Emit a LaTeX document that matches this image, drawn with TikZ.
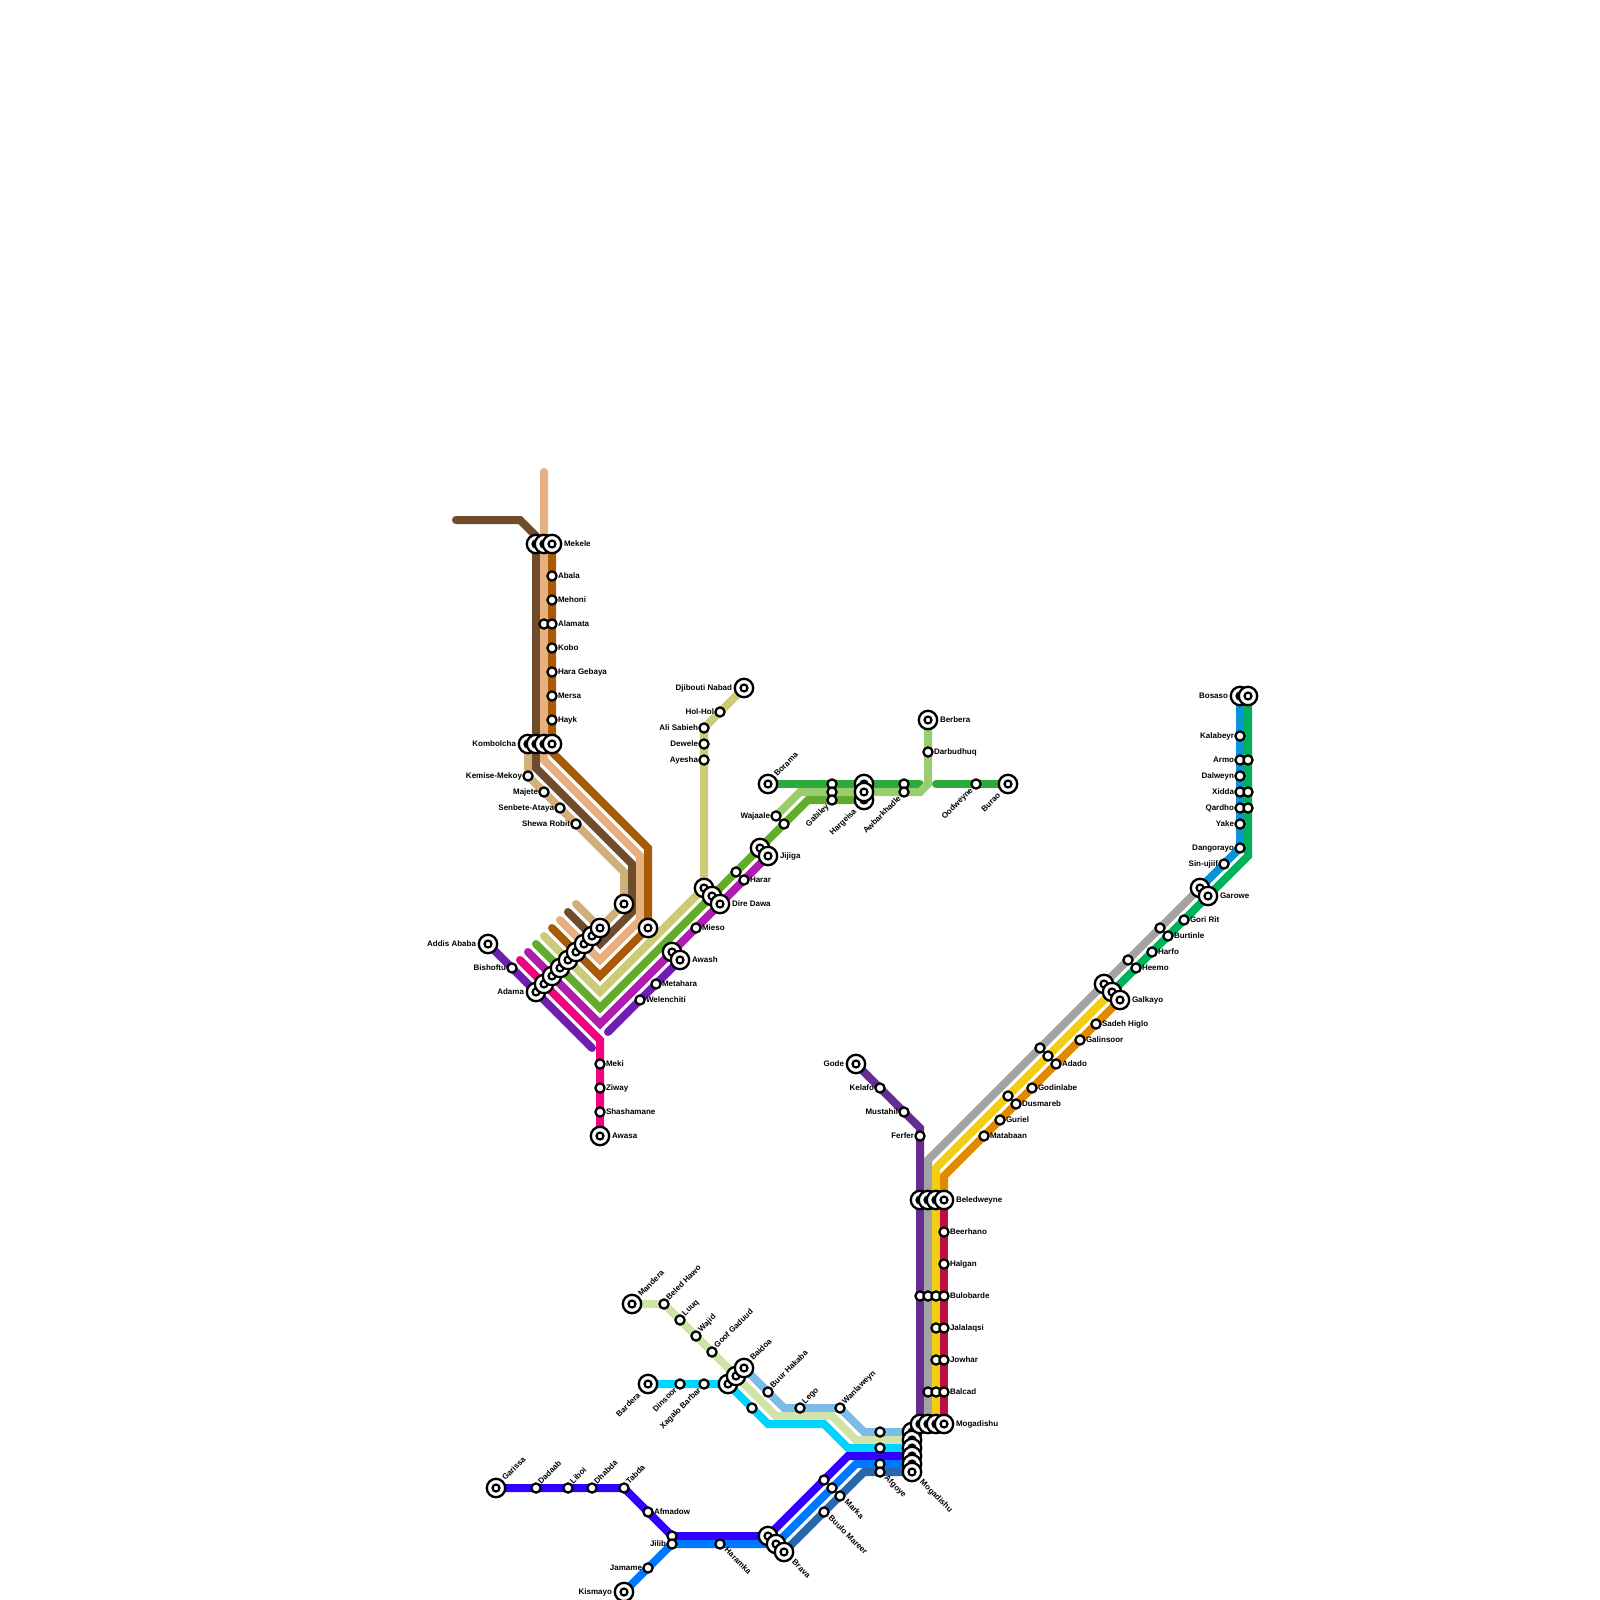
\documentclass[tikz,border=0pt]{standalone}
\usepackage{fontspec}
\setmainfont{Liberation Sans}
\pgfdeclarelayer{lines}
\pgfsetlayers{lines,main}
\definecolor{cTan}{HTML}{CFB07B}
\definecolor{cBrown}{HTML}{6E4C2C}
\definecolor{cPeach}{HTML}{E8B07E}
\definecolor{cOchre}{HTML}{A85A05}
\definecolor{cKhaki}{HTML}{CACC78}
\definecolor{cGreen}{HTML}{63AB2B}
\definecolor{cMagenta}{HTML}{AE1DAE}
\definecolor{cPink}{HTML}{F0047F}
\definecolor{cViolet}{HTML}{6E1EB0}
\definecolor{cDGreen}{HTML}{2AAB3A}
\definecolor{cLGreen}{HTML}{9ACC70}
\definecolor{cPlum}{HTML}{662D91}
\definecolor{cGray}{HTML}{A3A3A3}
\definecolor{cYellow}{HTML}{F1CE14}
\definecolor{cOrange}{HTML}{E08A00}
\definecolor{cRed}{HTML}{BE0F3C}
\definecolor{cEmerald}{HTML}{00B159}
\definecolor{cSky}{HTML}{0A94D6}
\definecolor{cPale}{HTML}{CFE4A6}
\definecolor{cLBlue}{HTML}{7CBBE8}
\definecolor{cCyan}{HTML}{00D5FF}
\definecolor{cIndigo}{HTML}{3300FF}
\definecolor{cAzure}{HTML}{0077FF}
\definecolor{cSteel}{HTML}{2A67AA}
\tikzset{
  stn/.style={circle,draw=black,fill=white,line width=2.2pt,minimum size=9.2pt,inner sep=0pt},
  term/.style={circle,draw=black,fill=white,line width=2.3pt,minimum size=18.4pt,inner sep=0pt,
    path picture={\draw[line width=2.2pt,fill=white] (path picture bounding box.center) circle[radius=3.5pt];}},
  lbl/.style={inner sep=0pt,outer sep=0pt,text=black,font=\bfseries\fontsize{8}{8}\selectfont},
  metro/.style={line width=8pt,line cap=round,line join=miter,miter limit=10}
}
\newcommand\st[3]{\node[stn] (#1) at (#2,#3) {};}
\newcommand\tm[3]{\node[term] (#1) at (#2,#3) {};}
\newcommand\lab[5]{\node[lbl,anchor=mid #2,rotate=#3] (l#1) at ([shift={(#4)}]#1.center) {#5};}
\newcommand\labR[2]{\lab{#1}{west}{0}{6,-0.5}{#2}}
\newcommand\labL[2]{\lab{#1}{east}{0}{-6,-0.5}{#2}}
\newcommand\labRR[2]{\lab{#1}{west}{0}{12,-0.5}{#2}}
\newcommand\labLL[2]{\lab{#1}{east}{0}{-12,-0.5}{#2}}
\newcommand\labU[2]{\lab{#1}{west}{45}{3.5,-5.5}{#2}}
\newcommand\labUU[2]{\lab{#1}{west}{45}{7.5,-9}{#2}}
\newcommand\labD[2]{\lab{#1}{west}{-45}{6,5}{#2}}
\newcommand\labDD[2]{\lab{#1}{west}{-45}{9.5,9}{#2}}
\newcommand\labB[2]{\lab{#1}{east}{45}{-4.5,5}{#2}}
\newcommand\labBB[2]{\lab{#1}{east}{45}{-9,10}{#2}}
\begin{document}
\begin{tikzpicture}[x=1pt,y=-1pt]
\useasboundingbox (0,0) rectangle (1600,1600);
% ---------- corner coordinates
\coordinate (tanS) at (576,904); \coordinate (tanC) at (624,872);
\coordinate (brS) at (568,912); \coordinate (brA) at (600,944); \coordinate (brB) at (632,912);
\coordinate (brC) at (632,864); \coordinate (brD) at (536,768); \coordinate (brE) at (536,536);
\coordinate (brF) at (520,520); \coordinate (brG) at (456,520);
\coordinate (peS) at (560,920); \coordinate (peA) at (600,960); \coordinate (peB) at (640,920);
\coordinate (peC) at (640,856); \coordinate (peD) at (544,760); \coordinate (peE) at (544,472);
\coordinate (orS) at (552,928); \coordinate (orA) at (600,976); \coordinate (orC) at (648,848); \coordinate (orD) at (552,752);
\coordinate (khS) at (544,936); \coordinate (khA) at (600,992);
\coordinate (grS) at (536,944); \coordinate (grA) at (600,1008); \coordinate (grC) at (808,800);
\coordinate (maS) at (528,952); \coordinate (maA) at (600,1024);
\coordinate (piS) at (520,960); \coordinate (piC) at (600,1040);
\coordinate (puE) at (592,1048); \coordinate (puS) at (608,1032);
\coordinate (dgE) at (920,784); \coordinate (dgS) at (936,784);
\coordinate (lgA) at (928,784); \coordinate (lgB) at (920,792); \coordinate (lgC) at (800,792);
\coordinate (plC) at (920,1128);
\coordinate (gyC) at (928,1160); \coordinate (yeC) at (936,1168); \coordinate (ogC) at (944,1176);
\coordinate (emC) at (1248,856);
\coordinate (paA) at (776,1416); \coordinate (paB) at (832,1416); \coordinate (paC) at (856,1440);
\coordinate (lbA) at (784,1408); \coordinate (lbB) at (864,1432);
\coordinate (cyA) at (768,1424); \coordinate (cyB) at (824,1424); \coordinate (cyC) at (848,1448);
\coordinate (inA) at (848,1456); \coordinate (azA) at (856,1464); \coordinate (stA) at (864,1472);
% ---------- stations: north-west group
\st{abala}{552}{576}\st{mehoni}{552}{600}\st{alam}{544}{624}\st{alamata}{552}{624}
\st{kobo}{552}{648}\st{haragebaya}{552}{672}\st{mersa}{552}{696}\st{hayk}{552}{720}
\tm{mekA}{536}{544}\tm{mekB}{544}{544}\tm{mekele}{552}{544}
\tm{kombolcha}{528}{744}\tm{komB}{536}{744}\tm{komC}{544}{744}\tm{komD}{552}{744}
\st{kemise}{528}{776}\st{majete}{544}{792}\st{senbete}{560}{808}\st{shewa}{576}{824}
\tm{tanEnd}{624}{904}\tm{ochEnd}{648}{928}
\tm{adama}{536}{992}\tm{adB}{544}{984}\tm{adC}{552}{976}\tm{adD}{560}{968}\tm{adE}{568}{960}
\tm{adF}{576}{952}\tm{adG}{584}{944}\tm{adH}{592}{936}\tm{adI}{600}{928}
\tm{addis}{488}{944}\st{bishoftu}{512}{968}
\st{meki}{600}{1064}\st{ziway}{600}{1088}\st{shasha}{600}{1112}\tm{awasa}{600}{1136}
\st{welen}{640}{1000}\st{metahara}{656}{984}\tm{awaA}{672}{952}\tm{awash}{680}{960}
\st{mieso}{696}{928}
\tm{ddA}{704}{888}\tm{ddB}{712}{896}\tm{diredawa}{720}{904}
\st{grX}{736}{872}\st{harar}{744}{880}
\tm{jijA}{760}{848}\tm{jijiga}{768}{856}
\st{grY}{784}{824}\st{wajaale}{776}{816}
\st{ayesha}{704}{760}\st{dewele}{704}{744}\st{alisabieh}{704}{728}\st{holhol}{720}{712}\tm{djibouti}{744}{688}
% north
\tm{borama}{768}{784}
\st{gabA}{832}{784}\st{gabB}{832}{792}\st{gabiley}{832}{800}
\tm{hargA}{864}{784}\tm{hargeisa}{864}{800}\tm{hargB}{864}{792}
\st{awbA}{904}{784}\st{awbarkhadle}{904}{792}
\tm{berbera}{928}{720}\st{darbudhuq}{928}{752}
\st{oodweyne}{976}{784}\tm{burao}{1008}{784}
% centre
\tm{gode}{856}{1064}\st{kelafo}{880}{1088}\st{mustahil}{904}{1112}\st{ferfer}{920}{1136}
\tm{belA}{920}{1200}\tm{belB}{928}{1200}\tm{belC}{936}{1200}\tm{beledweyne}{944}{1200}
\st{beerhano}{944}{1232}\st{halgan}{944}{1264}
\st{bulA}{920}{1296}\st{bulB}{928}{1296}\st{bulC}{936}{1296}\st{bulobarde}{944}{1296}
\st{jalA}{936}{1328}\st{jalalaqsi}{944}{1328}
\st{jowA}{936}{1360}\st{jowhar}{944}{1360}
\st{balA}{928}{1392}\st{balB}{936}{1392}\st{balcad}{944}{1392}
% north-east
\st{matabaan}{984}{1136}\st{guriel}{1000}{1120}\st{yeX}{1008}{1096}\st{dusmareb}{1016}{1104}
\st{godinlabe}{1032}{1088}\st{gyX}{1040}{1048}\st{yeY}{1048}{1056}\st{adado}{1056}{1064}
\st{galinsoor}{1080}{1040}\st{sadeh}{1096}{1024}
\tm{galA}{1104}{984}\tm{galB}{1112}{992}\tm{galkayo}{1120}{1000}
\st{gyY}{1128}{960}\st{heemo}{1136}{968}\st{harfo}{1152}{952}\st{gyZ}{1160}{928}\st{burtinle}{1168}{936}
\st{goririt}{1184}{920}\tm{garA}{1200}{888}\tm{garowe}{1208}{896}
\st{sinujiif}{1224}{864}\st{dangorayo}{1240}{848}\st{yake}{1240}{824}
\st{qardho}{1240}{808}\st{qarB}{1248}{808}\st{xidda}{1240}{792}\st{xidB}{1248}{792}
\st{dalweyn}{1240}{776}\st{armo}{1240}{760}\st{armB}{1248}{760}\st{kalabeyr}{1240}{736}
\tm{bosaso}{1240}{696}\tm{bosB}{1248}{696}
% south
\tm{mandera}{632}{1304}\st{beledhawo}{664}{1304}\st{luuq}{680}{1320}\st{wajid}{696}{1336}\st{goof}{712}{1352}
\tm{bardera}{648}{1384}\st{dinsoor}{680}{1384}\st{xagalo}{704}{1384}
\tm{baiA}{728}{1384}\tm{baiB}{736}{1376}\tm{baidoa}{744}{1368}
\st{cyX}{752}{1408}\st{buur}{768}{1392}\st{lego}{800}{1408}\st{wanlaweyn}{840}{1408}
\st{rowA}{880}{1432}\st{rowB}{880}{1448}\st{rowC}{880}{1464}\st{afgoye}{880}{1472}
\tm{mgA}{912}{1432}\tm{mgB}{912}{1440}\tm{mgC}{912}{1448}\tm{mgD}{912}{1456}\tm{mgE}{912}{1464}\tm{mogadishuS}{912}{1472}
\tm{mogA}{920}{1424}\tm{mogB}{928}{1424}\tm{mogC}{936}{1424}\tm{mogadishuE}{944}{1424}
\tm{garissa}{496}{1488}\st{dadaab}{536}{1488}\st{liboi}{568}{1488}\st{dhabda}{592}{1488}\st{tabda}{624}{1488}
\st{afmadow}{648}{1512}\st{jilA}{672}{1536}\st{jilib}{672}{1544}\st{jamame}{648}{1568}\tm{kismayo}{624}{1592}
\st{haramka}{720}{1544}
\st{inX}{824}{1480}\st{azX}{832}{1488}\st{marka}{840}{1496}\st{buulo}{824}{1512}
\tm{braA}{768}{1536}\tm{braB}{776}{1544}\tm{brava}{784}{1552}
% ---------- labels
\labRR{mekele}{Mekele}\labR{abala}{Abala}\labR{mehoni}{Mehoni}\labR{alamata}{Alamata}\labR{kobo}{Kobo}
\labR{haragebaya}{Hara Gebaya}\labR{mersa}{Mersa}\labR{hayk}{Hayk}
\labLL{kombolcha}{Kombolcha}\labL{kemise}{Kemise-Mekoy}\labL{majete}{Majete}\labL{senbete}{Senbete-Ataya}\labL{shewa}{Shewa Robit}
\labLL{addis}{Addis Ababa}\labL{bishoftu}{Bishoftu}\labLL{adama}{Adama}
\labR{meki}{Meki}\labR{ziway}{Ziway}\labR{shasha}{Shashamane}\labRR{awasa}{Awasa}
\labR{welen}{Welenchiti}\labR{metahara}{Metahara}\labRR{awash}{Awash}\labR{mieso}{Mieso}
\labRR{diredawa}{Dire Dawa}\labR{harar}{Harar}\labRR{jijiga}{Jijiga}\labL{wajaale}{Wajaale}
\labL{ayesha}{Ayesha}\labL{dewele}{Dewele}\labL{alisabieh}{Ali Sabieh}\labL{holhol}{Hol-Hol}\labLL{djibouti}{Djibouti Nabad}
\labUU{borama}{Borama}\labB{gabiley}{Gabiley}\labBB{hargeisa}{Hargeisa}\labB{awbarkhadle}{Awbarkhadle}
\labRR{berbera}{Berbera}\labR{darbudhuq}{Darbudhuq}\labB{oodweyne}{Oodweyne}\labBB{burao}{Burao}
\labLL{gode}{Gode}\labL{kelafo}{Kelafo}\labL{mustahil}{Mustahil}\labL{ferfer}{Ferfer}
\labRR{beledweyne}{Beledweyne}\labR{beerhano}{Beerhano}\labR{halgan}{Halgan}\labR{bulobarde}{Bulobarde}
\labR{jalalaqsi}{Jalalaqsi}\labR{jowhar}{Jowhar}\labR{balcad}{Balcad}\labRR{mogadishuE}{Mogadishu}
\labR{matabaan}{Matabaan}\labR{guriel}{Guriel}\labR{dusmareb}{Dusmareb}\labR{godinlabe}{Godinlabe}\labR{adado}{Adado}
\labR{galinsoor}{Galinsoor}\labR{sadeh}{Sadeh Higlo}\labRR{galkayo}{Galkayo}\labR{heemo}{Heemo}\labR{harfo}{Harfo}
\labR{burtinle}{Burtinle}\labR{goririt}{Gori Rit}\labRR{garowe}{Garowe}\labL{sinujiif}{Sin-ujiif}\labL{dangorayo}{Dangorayo}
\labL{yake}{Yake}\labL{qardho}{Qardho}\labL{xidda}{Xidda}\labL{dalweyn}{Dalweyn}\labL{armo}{Armo}\labL{kalabeyr}{Kalabeyr}\labLL{bosaso}{Bosaso}
\labUU{mandera}{Mandera}\labU{beledhawo}{Beled Hawo}\labU{luuq}{Luuq}\labU{wajid}{Wajid}\labU{goof}{Goof Gaduud}
\labUU{baidoa}{Baidoa}\labU{buur}{Buur Hakaba}\labU{lego}{Lego}\labU{wanlaweyn}{Wanlaweyn}
\labBB{bardera}{Bardera}\labB{dinsoor}{Dinsoor}\labB{xagalo}{Xagalo Barbar}
\labD{afgoye}{Afgoye}\labDD{mogadishuS}{Mogadishu}\labD{marka}{Marka}\labD{buulo}{Buulo Mareer}\labDD{brava}{Brava}\labD{haramka}{Haramka}
\labUU{garissa}{Garissa}\labU{dadaab}{Dadaab}\labU{liboi}{Liboi}\labU{dhabda}{Dhabda}\labU{tabda}{Tabda}
\labR{afmadow}{Afmadow}\labL{jilib}{Jilib}\labL{jamame}{Jamame}\labLL{kismayo}{Kismayo}
% ---------- lines
\begin{pgfonlayer}{lines}
\draw[metro,cTan] (tanS) -- (adI.center) -- (tanEnd.center) -- (tanC) -- (shewa.center) -- (kemise.center) -- (kombolcha.center);
\draw[metro,cBrown] (brS) -- (brA) -- (brB) -- (brC) -- (brD) -- (brE) -- (brF) -- (brG);
\draw[metro,cPeach] (peS) -- (peA) -- (peB) -- (peC) -- (peD) -- (peE);
\draw[metro,cOchre] (orS) -- (orA) -- (ochEnd.center) -- (orC) -- (orD) -- (mekele.center);
\draw[metro,cKhaki] (khS) -- (khA) -- (ddA.center) -- (alisabieh.center) -- (djibouti.center);
\draw[metro,cGreen] (grS) -- (grA) -- (grC) -- (hargeisa.center);
\draw[metro,cMagenta] (maS) -- (maA) -- (jijiga.center);
\draw[metro,cPink] (piS) -- (piC) -- (awasa.center);
\draw[metro,cViolet] (addis.center) -- (puE);
\draw[metro,cViolet] (puS) -- (awash.center);
\draw[metro,cDGreen] (borama.center) -- (dgE);
\draw[metro,cDGreen] (dgS) -- (burao.center);
\draw[metro,cLGreen] (berbera.center) -- (lgA) -- (lgB) -- (lgC) -- (wajaale.center);
\draw[metro,cPlum] (gode.center) -- (plC) -- (mogA.center);
\draw[metro,cGray] (mogB.center) -- (gyC) -- (garA.center);
\draw[metro,cSky] (garA.center) -- (dangorayo.center) -- (bosaso.center);
\draw[metro,cYellow] (mogC.center) -- (yeC) -- (galB.center);
\draw[metro,cEmerald] (galB.center) -- (emC) -- (bosB.center);
\draw[metro,cOrange] (beledweyne.center) -- (ogC) -- (galkayo.center);
\draw[metro,cRed] (beledweyne.center) -- (mogadishuE.center);
\draw[metro,cLBlue] (baidoa.center) -- (lbA) -- (wanlaweyn.center) -- (lbB) -- (mgA.center);
\draw[metro,cPale] (mandera.center) -- (beledhawo.center) -- (paA) -- (paB) -- (paC) -- (mgB.center);
\draw[metro,cCyan] (bardera.center) -- (baiA.center) -- (cyA) -- (cyB) -- (cyC) -- (mgC.center);
\draw[metro,cIndigo] (garissa.center) -- (tabda.center) -- (jilA.center) -- (braA.center) -- (inA) -- (mgD.center);
\draw[metro,cAzure] (kismayo.center) -- (jilib.center) -- (braB.center) -- (azA) -- (mgE.center);
\draw[metro,cSteel] (brava.center) -- (stA) -- (mogadishuS.center);
\end{pgfonlayer}
\end{tikzpicture}
\end{document}
